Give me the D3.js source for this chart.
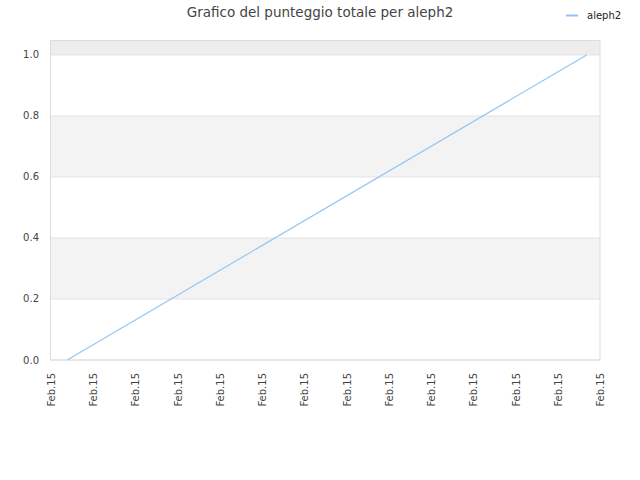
<!DOCTYPE html>
<html>
<head>
<meta charset="utf-8">
<script src="https://cdn.jsdelivr.net/npm/d3@7"></script>
<style>
  body { margin: 0; background: #fff; }
  text { font-family: "DejaVu Sans", sans-serif; }
</style>
</head>
<body>
<svg id="chart" width="640" height="480"></svg>
<script>
// ── DATA ─────────────────────────────────────────────
const seriesName = "aleph2";
const chartTitle = "Grafico del punteggio totale per aleph2";
const pointTimes = [new Date(2015, 1, 15, 0, 23), new Date(2015, 1, 15, 12, 41)];
const pointScores = [0, 1];
const xDomain = [new Date(2015, 1, 15, 0, 0), new Date(2015, 1, 15, 13, 0)];
const yTicks = [0, 0.2, 0.4, 0.6, 0.8, 1.0];
const bandStarts = [0.2, 0.6, 1.0];

const data = pointTimes.map((t, i) => ({ t, v: pointScores[i] }));

// ── LAYOUT ───────────────────────────────────────────
const margin = { top: 40, right: 40, bottom: 120, left: 51 };
const width = 640, height = 480;
const innerW = width - margin.left - margin.right;
const innerH = height - margin.top - margin.bottom;

const svg = d3.select("#chart");
const g = svg.append("g").attr("transform", `translate(${margin.left},${margin.top})`);

const x = d3.scaleTime().domain(xDomain).range([0, innerW]);
const y = d3.scaleLinear().domain([0, 1.049]).range([innerH, 0]);

// alternating bands
g.selectAll(".band")
  .data(bandStarts)
  .join("rect")
    .attr("x", 0)
    .attr("width", innerW)
    .attr("y", d => y(Math.min(d + 0.2, 1.049)))
    .attr("height", d => y(d) - y(Math.min(d + 0.2, 1.049)))
    .attr("fill", d => d >= 1 ? "#ededed" : "#f3f3f3");

// grid lines
g.selectAll(".grid")
  .data(yTicks)
  .join("line")
    .attr("x1", 0).attr("x2", innerW)
    .attr("y1", d => y(d)).attr("y2", d => y(d))
    .attr("stroke", "#e3e3e3");

// frame
g.append("rect")
  .attr("x", -0.5).attr("y", 0.5)
  .attr("width", innerW + 0.5).attr("height", innerH - 0.5)
  .attr("fill", "none")
  .attr("stroke", "#dcdcdc");

// y labels
g.selectAll(".ylab")
  .data(yTicks)
  .join("text")
    .attr("x", -12)
    .attr("y", d => y(d))
    .attr("dy", "0.35em")
    .attr("text-anchor", "end")
    .attr("font-size", 10)
    .attr("fill", "#444")
    .text(d => d.toFixed(1));

// x labels
const fmt = d3.timeFormat("%b.%d");
g.selectAll(".xlab")
  .data(x.ticks(d3.timeHour.every(1)))
  .join("text")
    .attr("transform", d => `translate(${x(d) + 4},${innerH + 13}) rotate(-90)`)
    .attr("text-anchor", "end")
    .attr("font-size", 10)
    .attr("fill", "#444")
    .text(d => fmt(d));

// line
g.append("path")
  .datum(data)
  .attr("fill", "none")
  .attr("stroke", "#94c6f4")
  .attr("stroke-width", 1.2)
  .attr("d", d3.line().x(d => x(d.t)).y(d => y(d.v)));

// title
svg.append("text")
  .attr("x", 320).attr("y", 17)
  .attr("text-anchor", "middle")
  .attr("font-size", 13.5)
  .attr("fill", "#444")
  .text(chartTitle);

// legend
svg.append("line")
  .attr("x1", 566).attr("x2", 578)
  .attr("y1", 15.5).attr("y2", 15.5)
  .attr("stroke", "#94c6f4")
  .attr("stroke-width", 2);
svg.append("text")
  .attr("x", 587).attr("y", 15)
  .attr("dy", "0.35em")
  .attr("font-size", 10)
  .attr("fill", "#222")
  .text(seriesName);
</script>
</body>
</html>
